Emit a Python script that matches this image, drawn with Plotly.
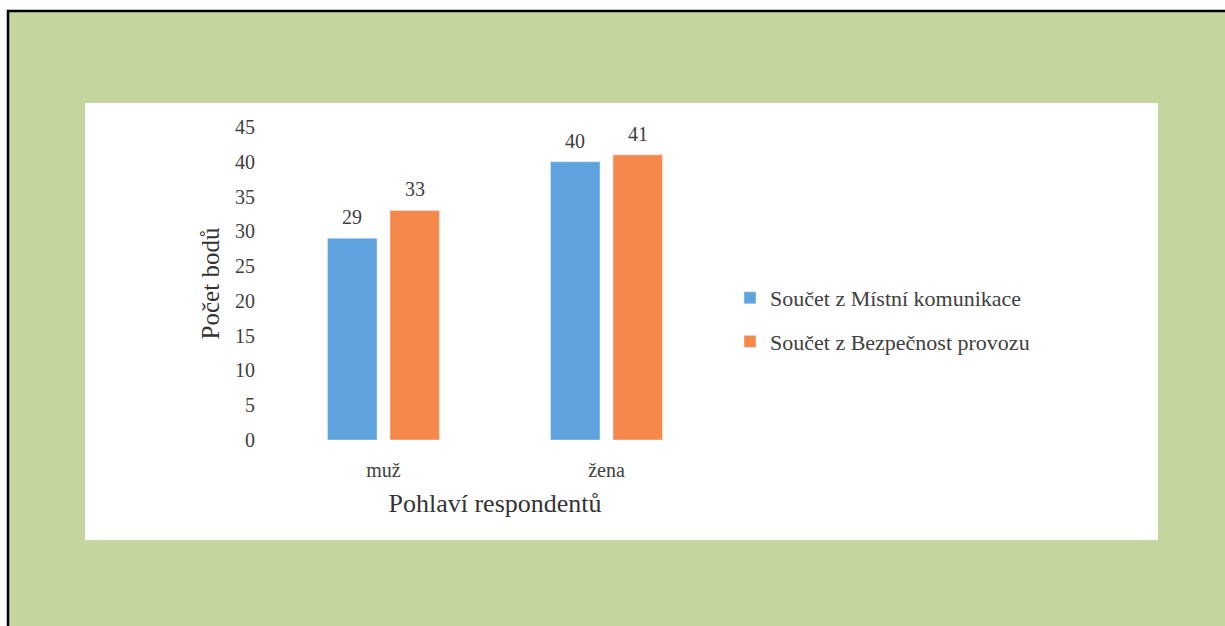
import plotly.graph_objects as go

categories = ["muž", "žena"]
series_names = ["Součet z Místní komunikace", "Součet z Bezpečnost provozu"]
mistni = [29, 40]
bezpecnost = [33, 41]
y_ticks = [0, 5, 10, 15, 20, 25, 30, 35, 40, 45]

colors = ["#5FA3DE", "#F5894C"]
W, H = 1225, 626
ML, MR, MT, MB = 272, 1225 - 718, 127, 626 - 440
PW, PH = W - ML - MR, H - MT - MB
BARGAP, BARGROUPGAP = 0.44, 0.208
SERIF = "Liberation Serif"


def px(xp):
    return (xp - ML) / PW


def py(yp):
    return (H - MB - yp) / PH


fig = go.Figure()
for i, (name, vals) in enumerate(zip(series_names, [mistni, bezpecnost])):
    fig.add_trace(go.Bar(
        x=categories, y=vals, name=name, marker_color=colors[i],
        legendgroup=f"g{i}",
    ))

# value labels above bars
cat_px = PW / len(categories)
slot = cat_px * (1 - BARGAP) / 2
annotations = []
for i, vals in enumerate([mistni, bezpecnost]):
    for c, v in zip(categories, vals):
        annotations.append(dict(
            x=c, y=v, xref="x", yref="y", text=str(v), showarrow=False,
            xshift=(i - 0.5) * slot, yshift=21, yanchor="middle",
            font=dict(family=SERIF, size=20, color="#404040"),
        ))

shapes = [
    dict(type="rect", xref="paper", yref="paper", layer="below",
         x0=px(8), x1=px(1240), y0=py(640), y1=py(11),
         fillcolor="#C4D59E", line=dict(color="black", width=2.5)),
    dict(type="rect", xref="paper", yref="paper", layer="below",
         x0=px(85), x1=px(1158), y0=py(540), y1=py(103),
         fillcolor="white", line=dict(width=0)),
]

fig.update_layout(
    width=W, height=H,
    margin=dict(l=ML, r=MR, t=MT, b=MB, pad=0),
    paper_bgcolor="white", plot_bgcolor="rgba(0,0,0,0)",
    barmode="group", bargap=BARGAP, bargroupgap=BARGROUPGAP,
    font=dict(family=SERIF, color="#404040"),
    shapes=shapes, annotations=annotations,
    legend=dict(
        x=px(730), y=py(277), xanchor="left", yanchor="top",
        font=dict(family=SERIF, size=22, color="#404040"),
        bgcolor="rgba(0,0,0,0)", traceorder="grouped", tracegroupgap=12,
    ),
    showlegend=True,
)
fig.update_xaxes(
    showline=False, showgrid=False, zeroline=False, ticks="",
    tickfont=dict(family=SERIF, size=20, color="#404040"),
    ticklabelstandoff=16,
    title=dict(text="Pohlaví respondentů", standoff=13,
               font=dict(family=SERIF, size=26, color="#333333")),
    automargin=True,
)
fig.update_yaxes(
    range=[0, 45], tickvals=y_ticks, showline=False, showgrid=False,
    zeroline=False, ticks="",
    tickfont=dict(family=SERIF, size=20, color="#404040"),
    ticklabelstandoff=16,
    title=dict(text="Počet bodů", standoff=8,
               font=dict(family=SERIF, size=25, color="#333333")),
    automargin=True,
)

fig.write_html(
    "out.html",
    config={"displayModeBar": False},
    post_script="document.body.style.margin='0px';document.body.style.overflow='hidden';",
)
